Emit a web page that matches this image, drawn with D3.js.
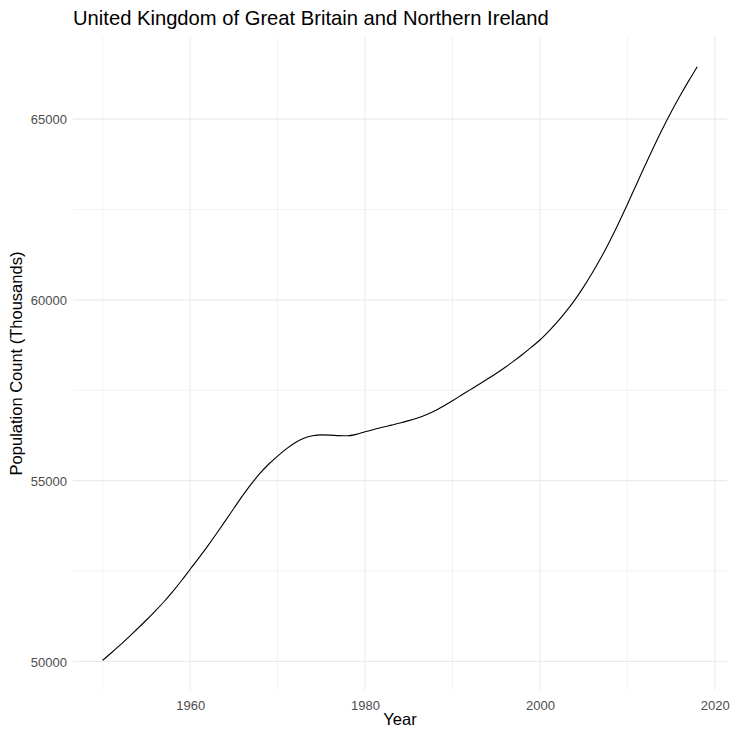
<!DOCTYPE html>
<html>
<head>
<meta charset="utf-8">
<script src="https://cdn.jsdelivr.net/npm/d3@7"></script>
<style>
  html, body { margin: 0; padding: 0; background: #ffffff; }
  svg { display: block; font-family: "Liberation Sans", Arial, sans-serif; }
</style>
</head>
<body>
<div id="chart"></div>
<script>
const years = d3.range(1950, 2019);
const population = [
  50030, 50240, 50455, 50680, 50910, 51145, 51390, 51650, 51930, 52230,
  52550, 52865, 53190, 53530, 53880, 54235, 54585, 54910, 55205, 55460,
  55680, 55880, 56050, 56170, 56240, 56265, 56260, 56245, 56240, 56280,
  56350, 56415, 56475, 56535, 56595, 56660, 56735, 56825, 56930, 57065,
  57210, 57360, 57510, 57660, 57810, 57965, 58130, 58305, 58490, 58685,
  58890, 59130, 59390, 59680, 60000, 60360, 60750, 61170, 61630, 62120,
  62640, 63170, 63700, 64220, 64720, 65190, 65630, 66050, 66450
];
const xTicks = [1960, 1980, 2000, 2020];
const xMinor = [1950, 1970, 1990, 2010];
const yTicks = [50000, 55000, 60000, 65000];
const yMinor = [52500, 57500, 62500];
const titleText = "United Kingdom of Great Britain and Northern Ireland";
const xLabel = "Year";
const yLabel = "Population Count (Thousands)";

const W = 732, H = 730;
const panel = { left: 73, right: 727, top: 37, bottom: 690 };

const data = years.map((y, i) => ({ year: y, value: population[i] }));

const xExt = d3.extent(years);
const xPad = (xExt[1] - xExt[0]) * 0.05;
const yExt = d3.extent(population);
const yPad = (yExt[1] - yExt[0]) * 0.05;

const x = d3.scaleLinear().domain([xExt[0] - xPad, xExt[1] + xPad]).range([panel.left, panel.right]);
const y = d3.scaleLinear().domain([yExt[0] - yPad, yExt[1] + yPad]).range([panel.bottom, panel.top]);

const svg = d3.select("#chart").append("svg").attr("width", W).attr("height", H);

// grid
const grid = svg.append("g");
grid.selectAll(".vminor").data(xMinor).enter().append("line")
  .attr("x1", d => x(d)).attr("x2", d => x(d))
  .attr("y1", panel.top).attr("y2", panel.bottom)
  .attr("stroke", "#ebebeb").attr("stroke-width", 0.6);
grid.selectAll(".hminor").data(yMinor).enter().append("line")
  .attr("y1", d => y(d)).attr("y2", d => y(d))
  .attr("x1", panel.left).attr("x2", panel.right)
  .attr("stroke", "#ebebeb").attr("stroke-width", 0.6);
grid.selectAll(".vmajor").data(xTicks).enter().append("line")
  .attr("x1", d => x(d)).attr("x2", d => x(d))
  .attr("y1", panel.top).attr("y2", panel.bottom)
  .attr("stroke", "#ebebeb").attr("stroke-width", 1.1);
grid.selectAll(".hmajor").data(yTicks).enter().append("line")
  .attr("y1", d => y(d)).attr("y2", d => y(d))
  .attr("x1", panel.left).attr("x2", panel.right)
  .attr("stroke", "#ebebeb").attr("stroke-width", 1.1);

// line
const line = d3.line().x(d => x(d.year)).y(d => y(d.value)).curve(d3.curveMonotoneX);
svg.append("path").datum(data)
  .attr("fill", "none").attr("stroke", "#000").attr("stroke-width", 1.1)
  .attr("d", line);

// axes labels
const xAxis = d3.axisBottom(x).tickValues(xTicks).tickSize(0).tickPadding(0).tickFormat(d3.format("d"));
const gx = svg.append("g").attr("transform", `translate(0,${panel.bottom + 20})`).call(xAxis);
gx.select(".domain").remove();
gx.selectAll("text").attr("fill", "#4d4d4d").attr("font-size", "13px").attr("dy", 0)
  .attr("font-family", "Liberation Sans, Arial, sans-serif");

const yAxis = d3.axisLeft(y).tickValues(yTicks).tickSize(0).tickPadding(0).tickFormat(d3.format("d"));
const gy = svg.append("g").attr("transform", `translate(${panel.left - 6},0)`).call(yAxis);
gy.select(".domain").remove();
gy.selectAll("text").attr("fill", "#4d4d4d").attr("font-size", "13px").attr("dy", "0.36em")
  .attr("font-family", "Liberation Sans, Arial, sans-serif");

svg.append("text").attr("x", (panel.left + panel.right) / 2).attr("y", 725)
  .attr("text-anchor", "middle").attr("font-size", "16.5px").attr("fill", "#000").text(xLabel);

svg.append("text")
  .attr("transform", `translate(21.5,${(panel.top + panel.bottom) / 2}) rotate(-90)`)
  .attr("text-anchor", "middle").attr("font-size", "16.5px").attr("fill", "#000").text(yLabel);

svg.append("text").attr("x", panel.left).attr("y", 25)
  .attr("font-size", "20.2px").attr("fill", "#000").text(titleText);
</script>
</body>
</html>
